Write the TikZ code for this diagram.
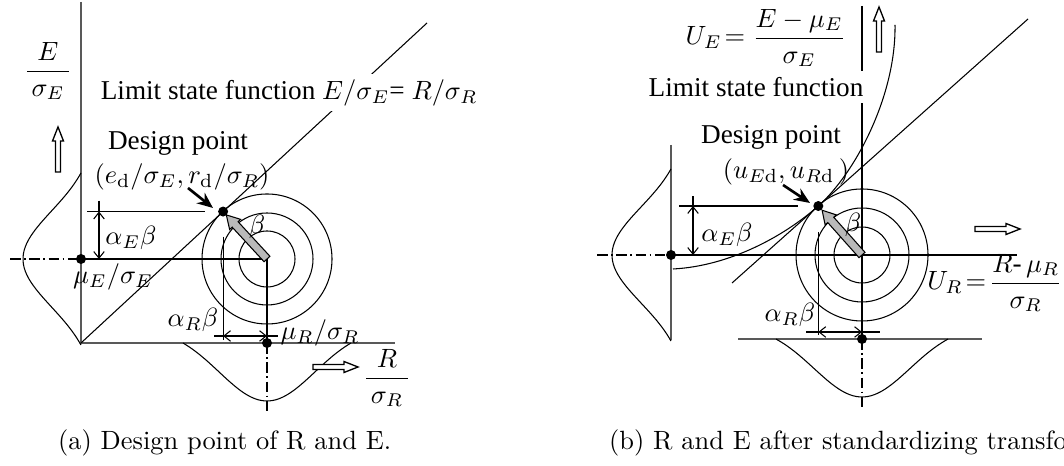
\documentclass[tikz,border=0pt]{standalone}
\usepackage{amsmath}
\usepackage{fontspec}
\newfontfamily\tnr{Liberation Serif}
\usetikzlibrary{arrows.meta,calc}

\tikzset{
  openarrow/.pic={\draw[fill=white,line width=0.5pt] (0,-2.5) -- (31,-2.5) -- (31,-5.5) -- (45,0) -- (31,5.5) -- (31,2.5) -- (0,2.5) -- cycle;},
  betaarrow/.pic={\draw[fill=gray!55,line width=0.4pt] (0,-4) -- (47,-4) -- (47,-7.5) -- (60,0) -- (47,7.5) -- (47,4) -- (0,4) -- cycle;}
}

\begin{document}
\begin{tikzpicture}[x=0.0133cm,y=0.0133cm,line width=0.4pt,
  every node/.style={font=\tnr\fontsize{10.3}{12}\selectfont,inner sep=1pt},
  axis/.style={draw=black!65,line width=0.7pt},
  dashdot/.style={dash pattern=on 4pt off 1.3pt on 0.7pt off 1.3pt},
  caption/.style={font=\normalfont\fontsize{10}{12}\selectfont,anchor=base west},
  >={Straight Barb[length=2.5pt,width=4pt]}]
  \useasboundingbox (0,0) rectangle (1064,466);

  % ---- (a) design point of R and E
  \coordinate (Oa) at (81,123);
  \coordinate (Ta) at (427,443);
  \coordinate (Ca) at (267,207);
  \coordinate (Da) at ($(Oa)!(Ca)!(Ta)$);
  \coordinate (Ea) at (81,207);
  \coordinate (Ra) at (267,123);

  \draw[axis] (81,464) -- (Oa) -- (395,123);
  \draw (Oa) -- (Ta);
  \foreach \r in {28,46,65} \draw (Ca) circle (\r);
  \draw (Ea) -- (Ca) -- (Ra);
  \draw[dashdot] (10,207) -- (Ea);
  \draw[dashdot] (Ra) -- (267,53);
  \draw plot[smooth,domain=-86:86,samples=50] ({81-58*(exp(-\x*\x/4608)-0.2)/0.8},{207+\x});
  \draw plot[smooth,domain=-84:84,samples=50] ({267+\x},{123-58*(exp(-\x*\x/4608)-0.216)/0.784});
  % dimensions
  \draw ($(Da -| Ea)+(6,0)$) -- ($(Da)+(-18,0)$);
  \draw ($(Da -| Ea)+(18,11)$) -- ($(Da -| Ea)+(18,0)$);
  \draw[<->] ($(Da -| Ea)+(18,0)$) -- ($(Ea)+(18,0)$);
  \draw ($(Da)+(0,-25)$) -- ($(Da |- Ra)+(0,3)$);
  \draw ($(Da |- Ra)+(-9,7)$) -- ($(Ra)+(11,7)$);
  \draw[<->] ($(Da |- Ra)+(0,7)$) -- ($(Ra)+(0,7)$);
  \pic[rotate=132.7] at (Ca) {betaarrow};
  \foreach \p in {Da,Ea,Ra} \fill (\p) circle (5);
  \draw[line width=1pt,-{Stealth[length=6pt,width=5pt]}] (188,278) -- (213,258);
  \pic[rotate=90] at (58,294) {openarrow};
  \pic at (313,99) {openarrow};

  \node[fill=white,inner sep=2pt,anchor=west] (lsfa) at (95,373) {Limit state function $E/\sigma_E$= $R/\sigma_R$};
  \node (Efrac) at (48,395) {$\dfrac{\,E\,}{\,\sigma_E\,}$};
  \node (dpa) at (178,323) {Design point};
  \node (dpca) at (182,289) {$(e_\mathrm{d}/\sigma_E, r_\mathrm{d}/\sigma_R)$};
  \node (bta) at (257,239) {$\beta$};
  \node (aEa) at (131,228) {$\alpha_E\beta$};
  \node (mEa) at (113,189) {$\mu_E/\sigma_E$};
  \node (aRa) at (193,146) {$\alpha_R\beta$};
  \node (mRa) at (320,133) {$\mu_R/\sigma_R$};
  \node (Rfrac) at (387,88) {$\dfrac{\,R\,}{\,\sigma_R\,}$};
  \node[caption] (capa) at (55,16) {(a) Design point of R and E.};

  % ---- (b) after standardizing
  \coordinate (Cb) at (862,211);
  \coordinate (Pb) at (732,183);
  \coordinate (Tb) at (1028,447);
  \coordinate (Db) at ($(Pb)!(Cb)!(Tb)$);
  \coordinate (Eb) at (671,211);
  \coordinate (Rb) at (862,127);

  \draw[axis] (671,321) -- (671,126);
  \draw[axis] (738,127) -- (982,127);
  \draw (Eb) -- (1017,211);
  \draw (862,460) -- (Rb);
  \draw[dashdot] (597,211) -- (Eb);
  \draw[dashdot] (Rb) -- (862,56);
  \foreach \r in {28,47,66} \draw (Cb) circle (\r);
  \draw (Pb) -- (Tb);
  \draw (673,197) .. controls (730,200) and ($(Db)+(-34,-30)$) .. (Db)
        .. controls ($(Db)+(37,33)$) and (896,370) .. (895,441);
  \draw plot[smooth,domain=-86:86,samples=50] ({671-59*(exp(-\x*\x/4608)-0.2)/0.8},{211+\x});
  \draw plot[smooth,domain=-86:86,samples=50] ({862+\x},{127-58*(exp(-\x*\x/4608)-0.2)/0.8});
  % dimensions
  \draw ($(Db -| Eb)+(8,0)$) -- ($(Db)+(-20,0)$);
  \draw ($(Db -| Eb)+(22,10)$) -- ($(Db -| Eb)+(22,0)$);
  \draw[<->] ($(Db -| Eb)+(22,0)$) -- ($(Eb)+(22,0)$);
  \draw ($(Db)+(0,-26)$) -- ($(Db |- Rb)+(0,4)$);
  \draw ($(Db |- Rb)+(-12,7)$) -- ($(Rb)+(18,7)$);
  \draw[<->] ($(Db |- Rb)+(0,7)$) -- ($(Rb)+(0,7)$);
  \pic[rotate=131.7] at (Cb) {betaarrow};
  \foreach \p in {Db,Eb,Rb} \fill (\p) circle (5);
  \draw[line width=1pt,-{Stealth[length=6pt,width=5pt]}] (783,281) -- (810,263);
  \pic[rotate=90] at (879,414) {openarrow};
  \pic at (975,237) {openarrow};

  \node[fill=white,inner sep=2.5pt] (lsfb) at (756,379) {Limit state function};
  \node[anchor=east] (UE) at (849,428) {$U_E\!=\dfrac{E-\mu_E}{\sigma_E}$};
  \node (dpb) at (771,329) {Design point};
  \node (dpcb) at (786,294) {$(u_{E\mathrm{d}}, u_{R\mathrm{d}}\,)$};
  \node (btb) at (853,241) {$\beta$};
  \node (aEb) at (727,231) {$\alpha_E\beta$};
  \node (aRb) at (790,151) {$\alpha_R\beta$};
  \node[anchor=east,inner sep=0pt] (UR) at (1063,183) {$U_R\!=\!\dfrac{R\text{-}\,\mu_R}{\sigma_R}$};
  \node[caption] (capb) at (606,16) {(b) R and E after standardizing transfo};
\end{tikzpicture}
\end{document}
